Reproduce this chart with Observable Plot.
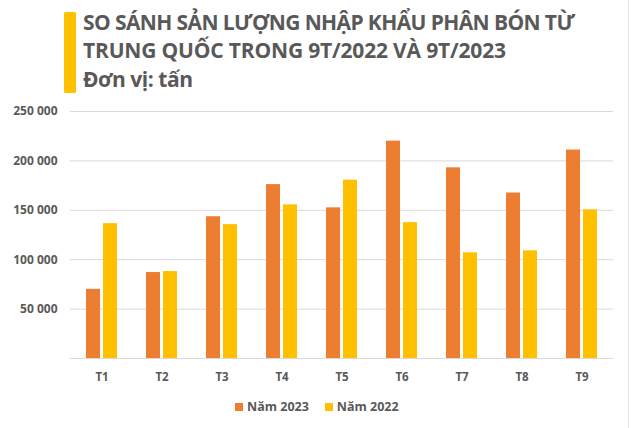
<!DOCTYPE html>
<html>
<head>
<meta charset="utf-8">
<script src="https://cdn.jsdelivr.net/npm/d3@7"></script>
<script src="https://cdn.jsdelivr.net/npm/@observablehq/plot@0.6"></script>
<style>
  html, body { margin: 0; padding: 0; background: #fff; }
  #wrap { position: relative; width: 631px; height: 428px; overflow: hidden; background: #fff; font-family: "Open Sans", sans-serif; }
  #edge { position: absolute; left: 628px; top: 0; width: 1px; height: 428px; background: #e3e3e3; }
  #accent { position: absolute; left: 64px; top: 12px; width: 12px; height: 81px; background: #FFC000; border-radius: 1.5px; }
  #title { position: absolute; left: 0; top: 0; }
  #title text { fill: #595959; font-weight: 700; font-size: 21px; font-family: "Open Sans", sans-serif; }
  #chart { position: absolute; left: 0; top: 100px; }
  #legend { position: absolute; top: 398px; left: 235px; display: flex; align-items: center; font-weight: 700; font-size: 12.5px; color: #595959; }
  .sw { display: inline-block; width: 8px; height: 8px; margin-right: 4px; }
  .item { display: flex; align-items: center; margin-right: 16px; }
</style>
</head>
<body>
<div id="wrap">
  <div id="edge"></div>
  <div id="accent"></div>
  <svg id="title" width="631" height="100">
    <text x="83" y="30" textLength="492" lengthAdjust="spacing">SO SÁNH SẢN LƯỢNG NHẬP KHẨU PHÂN BÓN TỪ</text>
    <text x="83" y="58.3" textLength="423" lengthAdjust="spacing">TRUNG QUỐC TRONG 9T/2022 VÀ 9T/2023</text>
    <text x="83" y="86.7" textLength="110" lengthAdjust="spacing">Đơn vị: tấn</text>
  </svg>
  <div id="chart"></div>
  <div id="legend"></div>
</div>
<script>
const months = ["T1","T2","T3","T4","T5","T6","T7","T8","T9"];
const series = ["Năm 2023","Năm 2022"];
const values2023 = [70000, 87000, 143500, 176000, 152500, 220000, 193000, 167500, 211000];
const values2022 = [136500, 88000, 135500, 155500, 180500, 137500, 107000, 109000, 150500];
const yTicks = [50000, 100000, 150000, 200000, 250000];
const gridTicks = [0, 50000, 100000, 150000, 200000, 250000];
const colors = ["#ED7D31", "#FFC000"];

const d2023 = months.map((m, i) => ({month: m, value: values2023[i]}));
const d2022 = months.map((m, i) => ({month: m, value: values2022[i]}));
const fmt = d => d3.format(",")(d).replace(/,/g, " ");

const chart = Plot.plot({
  width: 631,
  height: 290,
  marginLeft: 70,
  marginRight: 18,
  marginTop: 11,
  marginBottom: 32,
  style: {fontFamily: "Open Sans, sans-serif", background: "transparent"},
  x: {domain: months, paddingInner: 0.486, paddingOuter: 0.243, label: null},
  y: {domain: [0, 250000], label: null},
  marks: [
    Plot.ruleY(gridTicks, {stroke: "#d9d9d9", strokeWidth: 1}),
    Plot.barY(d2023, {x: "month", y: "value", fill: colors[0], insetLeft: 0, insetRight: 17}),
    Plot.barY(d2022, {x: "month", y: "value", fill: colors[1], insetLeft: 17, insetRight: 0}),
    Plot.axisY({ticks: yTicks, tickFormat: fmt, tickSize: 0, tickPadding: 13, label: null, fontSize: 12, fontWeight: 700, fill: "#595959"}),
    Plot.axisX({tickSize: 0, tickPadding: 14, label: null, fontSize: 11.5, fontWeight: 700, fill: "#595959"})
  ]
});
document.getElementById("chart").appendChild(chart);

const legend = document.getElementById("legend");
series.forEach((s, i) => {
  const item = document.createElement("div");
  item.className = "item";
  const sw = document.createElement("span");
  sw.className = "sw";
  sw.style.background = colors[i];
  item.appendChild(sw);
  item.appendChild(document.createTextNode(s));
  legend.appendChild(item);
});
</script>
</body>
</html>
